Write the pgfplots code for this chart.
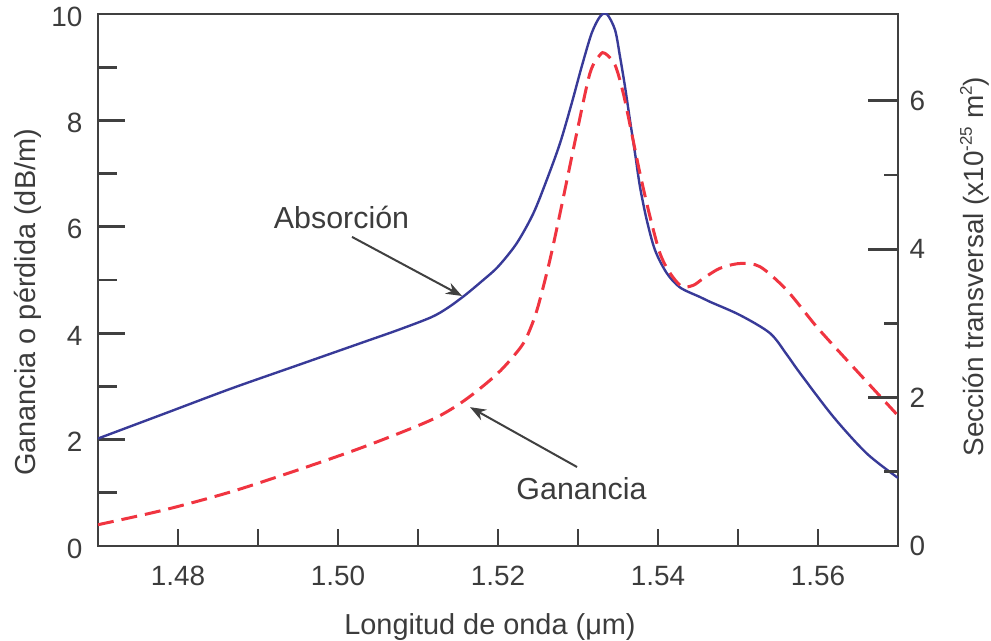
\documentclass[border=0pt]{standalone}
\usepackage{pgfplots}
\pgfplotsset{compat=1.18}
\usepackage{fontspec}
\setmainfont{Liberation Sans}
\usetikzlibrary{arrows.meta}
\definecolor{absblue}{RGB}{56,58,152}
\definecolor{gainred}{RGB}{240,52,64}
\definecolor{txtgray}{RGB}{60,60,60}
\definecolor{axgray}{RGB}{64,64,64}
\newcommand{\sups}[1]{\raisebox{0.42em}{\fontsize{17}{20}\selectfont #1}}

\pgfplotstableread{
x y
1.47000 2.02
1.47834 2.49
1.48666 2.96
1.49500 3.40
1.50334 3.84
1.50750 4.06
1.51166 4.30
1.51375 4.48
1.51584 4.71
1.51792 4.97
1.52000 5.25
1.52234 5.69
1.52441 6.25
1.52609 6.88
1.52775 7.57
1.52921 8.32
1.53046 9.01
1.53171 9.64
1.53275 9.95
1.53360 10.00
1.53463 9.70
1.53525 9.20
1.53588 8.63
1.53650 8.00
1.53713 7.38
1.53775 6.75
1.53859 6.13
1.53963 5.56
1.54109 5.13
1.54275 4.86
1.54525 4.68
1.54650 4.59
1.55025 4.34
1.55400 4.00
1.55609 3.60
1.55775 3.25
1.56191 2.43
1.56609 1.74
1.57000 1.28
}\absdata

\pgfplotstableread{
x y
1.47000 0.40
1.47834 0.68
1.48666 1.02
1.49500 1.43
1.50334 1.87
1.51166 2.37
1.51584 2.74
1.52000 3.25
1.52291 3.75
1.52400 4.07
1.52500 4.50
1.52640 5.32
1.52775 6.25
1.52984 7.76
1.53150 8.89
1.53275 9.23
1.53338 9.26
1.53463 9.04
1.53566 8.51
1.53671 7.76
1.53775 7.00
1.53900 6.19
1.54025 5.50
1.54150 5.13
1.54296 4.88
1.54441 4.90
1.54566 5.03
1.54775 5.22
1.55025 5.31
1.55275 5.25
1.55609 4.81
1.55984 4.12
1.56400 3.43
1.57000 2.45
}\gaindata

\begin{document}
\begin{tikzpicture}
\begin{axis}[
  name=main,
  width=800bp, height=532bp, scale only axis,
  xmin=1.47, xmax=1.57, ymin=0, ymax=10,
  axis line style={axgray, line width=2.8bp},
  every tick/.style={axgray, line width=2.8bp},
  tick align=inside,
  xtick={1.48,1.50,1.52,1.54,1.56},
  xticklabels={1.48,1.50,1.52,1.54,1.56},
  minor xtick={1.49,1.51,1.53,1.55},
  xtick pos=bottom,
  xtick style={/pgfplots/major tick length=17bp,/pgfplots/minor tick length=17bp},
  ytick={0,2,4,6,8,10},
  minor ytick={1,3,5,7,9},
  ytick pos=left,
  ytick style={/pgfplots/major tick length=27bp,/pgfplots/minor tick length=19bp},
  tick label style={font=\fontsize{28}{33}\selectfont, text=txtgray},
  xticklabel style={yshift=-17bp},
  yticklabel style={xshift=-12bp, yshift=-2.5bp},
  /pgf/number format/assume math mode=true,
  xlabel={Longitud de onda (μm)},
  ylabel={Ganancia o pérdida (dB/m)},
  every axis x label/.style={at={(axis description cs:0.49,-0.167)}, anchor=base, font=\fontsize{29}{34}\selectfont, text=txtgray},
  every axis y label/.style={at={(axis description cs:-0.0875,0.458)}, anchor=center, rotate=90, font=\fontsize{29}{34}\selectfont, text=txtgray},
]
\addplot[absblue, line width=2.4bp, smooth] table[x=x,y=y] {\absdata};
\addplot[gainred, line width=3bp, smooth, dash pattern=on 16bp off 8bp] table[x=x,y=y] {\gaindata};

\node[font=\fontsize{30.5}{35}\selectfont, text=txtgray, anchor=base] at (axis cs:1.50044,5.96) {Absorción};
\node[font=\fontsize{30.5}{35}\selectfont, text=txtgray, anchor=base] at (axis cs:1.53044,0.865) {Ganancia};
\draw[axgray, line width=2bp, -{Stealth[length=16bp,width=12bp]}] (axis cs:1.50175,5.81) -- (axis cs:1.5155,4.70);
\draw[axgray, line width=2bp, -{Stealth[length=16bp,width=12bp]}] (axis cs:1.52988,1.485) -- (axis cs:1.5165,2.61);
\end{axis}

\begin{axis}[
  width=800bp, height=532bp, scale only axis,
  xmin=1.47, xmax=1.57, ymin=0, ymax=7.17,
  hide x axis,
  axis line style={draw=none},
  every tick/.style={axgray, line width=2.8bp},
  tick align=inside,
  ytick={0,2,4,6},
  minor ytick={1,3,5},
  ytick pos=right, yticklabel pos=right,
  major tick length=30bp, minor tick length=14bp,
  tick label style={font=\fontsize{28}{33}\selectfont, text=txtgray},
  yticklabel style={xshift=8bp},
  /pgf/number format/assume math mode=true,
  ylabel={Sección transversal (x10\sups{-25} m\sups{2})},
  every axis y label/.style={at={(axis description cs:1.096,0.525)}, anchor=center, rotate=90, font=\fontsize{28}{33}\selectfont, text=txtgray},
]
\addplot[draw=none] coordinates {(1.5,1)};
\end{axis}

\pgfresetboundingbox
\path[use as bounding box] ([shift={(-98bp,-95bp)}]main.south west) rectangle ([shift={(93bp,14bp)}]main.north east);
\end{tikzpicture}
\end{document}
